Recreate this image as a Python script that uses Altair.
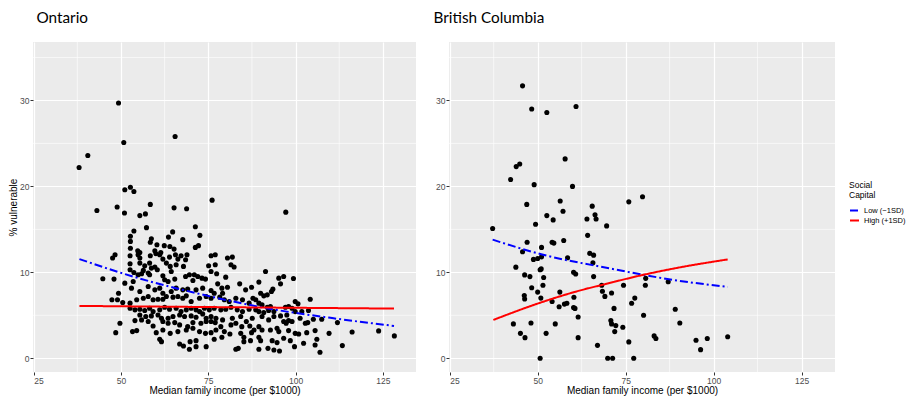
import altair as alt
import pandas as pd

# ---------------- data ----------------
# Ontario: (median family income in $1000, % vulnerable)
ontario_points = [
    (38.0,22.2),(40.5,23.6),(49.3,29.7),(50.8,25.1),(65.5,25.8),(51.1,19.6),(52.7,19.9),(53.7,19.4),(76.1,18.4),
    (43.1,17.2),(48.9,17.6),(51.0,16.9),(58.4,17.9),(55.4,16.6),(57.0,16.8),(65.2,17.5),(68.8,17.4),(57.3,15.2),
    (53.7,14.8),(52.7,14.2),(52.7,13.6),(52.7,12.8),(58.7,13.9),(58.4,13.5),(64.8,14.7),(63.6,14.1),(67.7,13.8),
    (71.3,15.3),(72.6,14.3),(60.3,13.2),(62.4,13.1),(64.0,13.0),(65.2,12.7),(71.3,12.9),(72.2,13.1),(54.8,12.5),
    (55.4,12.3),(59.7,12.5),(61.4,12.3),(97.2,17.0),
    (48.3,12.05),(47.6,11.66),(52.6,11.93),(54.9,12.05),(55.4,11.66),(58.4,11.93),(60.0,12.16),(61.1,12.05),
    (62.0,11.54),(63.9,11.77),(65.6,12.05),(67.2,11.93),(68.9,12.05),(66.3,11.54),(68.5,11.46),
    (52.6,11.0),(55.4,11.07),(56.8,10.76),(58.2,11.07),(58.7,10.49),(59.7,10.61),(63.0,11.07),(64.1,10.69),
    (65.8,10.88),(67.9,10.69),(75.8,11.93),(77.0,12.05),(75.1,10.76),(77.0,10.88),(80.5,11.66),(81.9,11.77),
    (81.5,10.88),(82.4,10.61),(75.8,10.1),(77.4,9.83),
    (44.8,9.25),(48.0,9.21),(52.6,10.3),(53.7,9.98),(54.9,9.71),(56.4,10.22),(55.9,9.83),(57.8,9.91),(58.2,9.71),
    (60.4,10.3),(62.0,9.6),(62.5,9.13),(64.4,10.1),(63.5,8.93),(65.4,9.21),(68.5,9.52),(69.6,9.71),(71.0,9.71),
    (72.0,9.52),(70.6,9.05),(73.2,9.32),(74.2,9.21),
    (77.7,8.66),(78.9,8.16),(80.0,9.44),(80.5,8.27),(84.0,8.66),(85.7,7.96),(87.4,8.27),(87.8,6.99),
    (51.1,8.74),(53.5,8.93),(53.0,8.16),(55.4,7.77),(57.8,8.35),(59.7,7.96),(61.1,8.16),(62.0,7.57),(64.4,7.77),
    (65.8,8.16),(67.7,7.96),(69.1,8.04),(71.5,7.96),(73.4,8.16),(75.8,7.88),(76.7,7.57),(79.1,7.57),
    (47.4,6.8),(49.3,7.57),(49.0,6.8),(50.5,6.48),(52.6,6.41),(54.5,6.8),(56.4,6.99),(57.8,7.18),(59.2,6.8),
    (60.6,6.87),(62.0,6.87),(63.0,7.18),(64.9,7.11),(66.3,7.18),(67.7,6.99),(68.7,7.26),(70.1,6.6),(72.5,6.99),
    (74.4,7.18),(75.8,6.99),(78.3,7.11),(79.6,6.8),(81.0,6.6),(82.9,6.99),(84.8,6.8),(86.7,6.41),
    (52.6,5.82),(54.0,5.63),(55.4,5.71),(56.8,5.55),(58.2,5.82),(59.2,5.43),(61.1,5.63),(62.5,5.94),(63.9,5.71),
    (65.8,5.82),(67.2,5.43),(68.7,5.63),(70.1,5.82),(71.5,5.63),(72.5,5.43),(73.9,5.82),(75.3,5.63),(76.7,5.82),
    (78.6,5.63),(80.0,5.71),(81.5,5.94),(83.3,5.63),(84.8,5.43),(86.7,5.71),
    (55.4,5.04),(57.1,4.85),(58.7,4.93),(60.6,5.04),(61.6,4.66),(63.5,4.66),(64.9,4.85),(66.8,5.04),(68.2,4.85),
    (70.1,4.93),(71.5,4.77),(73.4,5.16),(74.4,4.66),(75.8,4.85),(77.2,4.66),(79.1,4.46),(81.9,4.66),(84.3,4.85),
    (85.9,4.27),(87.6,4.66),
    (49.7,4.07),(54.0,4.38),(55.9,4.46),(57.8,4.27),(59.2,3.76),(62.0,4.27),(63.5,4.07),(65.4,4.15),(66.8,3.88),
    (69.1,3.68),(70.6,4.15),(72.9,4.07),(74.4,4.27),(75.8,4.27),(77.0,4.15),(78.6,3.68),(81.5,3.88),(82.9,4.07),
    (84.6,3.68),(86.9,3.76),(88.1,3.29),
    (48.5,2.98),(53.3,3.1),(54.5,3.22),(60.1,2.98),(62.0,3.29),(64.1,2.9),(66.3,3.1),(68.7,3.29),(70.6,3.49),
    (72.5,3.1),(74.2,2.9),(75.8,2.98),(77.2,3.29),(79.6,3.1),(81.2,2.83),(84.3,2.9),(85.2,2.44),(87.4,2.98),
    (61.1,2.21),(61.6,1.93),(66.8,1.66),(67.9,1.43),(69.8,1.93),(71.5,2.05),(69.6,1.04),(71.5,1.35),(74.4,1.35),
    (76.7,2.21),(78.9,2.44),(82.9,1.04),(83.6,1.15),(85.2,1.93),(87.1,2.05),
    (91.4,10.1),(89.5,8.86),(95.2,9.32),(96.6,9.52),(95.7,8.66),(99.4,9.28),(93.5,8.04),(93.1,7.77),(90.0,7.57),
    (90.9,7.26),(91.9,7.38),(88.6,6.8),(89.5,6.41),(90.4,6.21),(99.9,6.6),(100.7,6.33),(104.2,6.87),(91.9,5.94),
    (92.8,6.02),(97.1,5.94),(98.0,6.02),(99.0,5.82),(88.6,5.63),(89.5,5.43),(90.9,5.32),(92.3,5.55),(93.8,5.43),
    (97.5,5.04),(99.9,5.43),(101.8,5.43),(103.7,5.55),(90.4,4.85),(92.3,4.46),(93.8,4.85),(95.7,4.93),(96.6,4.27),
    (97.3,4.07),(98.0,4.38),(99.0,4.27),(101.3,4.66),(102.8,4.07),(103.5,4.15),(105.1,4.54),(107.5,4.54),
    (112.0,4.15),(89.5,3.68),(90.4,3.29),(92.8,3.29),(94.7,3.49),(95.2,3.1),(98.0,3.22),(99.9,2.9),(100.9,2.83),
    (103.2,2.98),(105.6,3.22),(109.6,2.9),(116.2,3.06),(123.8,3.18),(128.3,2.6),(89.5,2.44),(90.0,2.05),
    (93.3,2.05),(94.7,1.82),(96.6,2.32),(98.5,2.05),(102.3,1.74),(106.1,2.21),(105.6,1.54),(89.5,1.04),
    (92.1,1.15),(93.8,0.96),(95.4,0.84),(99.7,1.35),(107.0,0.69),(113.4,1.47),
]

# British Columbia
bc_points = [
    (45.7,31.7),(48.3,29.0),(52.6,28.6),(60.9,29.3),(57.8,23.2),(44.9,22.6),(43.9,22.3),(42.3,20.8),(49.0,20.2),
    (59.9,20.0),(79.8,18.8),(75.9,18.2),(56.4,18.3),(46.9,17.9),(65.5,17.7),(57.2,17.1),(66.3,16.7),(52.6,16.6),
    (66.6,16.2),(64.0,16.2),(54.4,16.1),
    (37.2,15.1),(69.6,15.4),(49.4,15.6),(64.2,14.3),(47.0,13.5),(54.1,13.5),(54.6,13.4),(57.4,13.7),(45.7,12.4),
    (51.1,12.9),(58.5,11.7),(64.8,12.2),(65.9,12.0),(65.7,11.1),(65.9,9.5),(48.8,11.5),(50.0,11.6),(51.1,11.8),
    (43.8,10.6),(50.7,10.3),(51.0,10.4),(60.2,10.0),(60.8,9.8),(46.3,9.7),(47.8,9.5),(51.7,9.4),(48.3,8.2),
    (51.5,8.5),(50.0,7.7),(50.9,7.0),(56.3,7.7),(54.1,6.6),(56.1,6.0),(57.6,6.3),(58.3,6.4),(60.2,5.9),(60.6,5.8),
    (60.3,7.1),(46.2,7.3),(46.3,6.9),(61.5,4.8),(68.2,8.5),(68.4,7.8),(69.1,7.2),(71.0,7.6),(74.4,8.5),(71.7,5.8),
    (77.6,7.0),(76.7,6.4),(80.7,9.3),(80.6,8.5),(87.1,8.9),(80.1,5.0),(89.1,5.7),(90.4,4.1),(70.8,4.4),(71.0,4.0),
    (72.2,3.8),(71.9,3.1),(74.2,3.6),(43.1,4.0),(48.1,4.1),(55.0,4.0),(45.1,2.9),(46.4,2.4),(52.4,2.9),(61.5,2.4),
    (67.0,1.5),(75.9,1.9),(83.1,2.6),(83.6,2.3),(95.0,2.1),(96.3,1.0),(98.2,2.3),(104.0,2.5),(50.7,0.0),(69.9,0.0),
    (71.3,0.0),(77.3,0.0),
]

# model predictions (income, % vulnerable)
on_low = [(38.1,11.54),(54.0,9.44),(72.9,7.45),(91.8,5.82),(110.9,4.65),(128.2,3.76)]
on_high = [(38.1,6.09),(83.0,5.93),(128.2,5.78)]
bc_low = [(37.2,13.8),(51.0,12.1),(69.9,10.5),(88.8,9.1),(104.0,8.3)]
bc_high = [(37.4,4.46),(51.0,6.5),(60.4,7.7),(69.9,8.7),(79.4,9.65),(88.8,10.45),(104.0,11.5)]

low_label = "Low (\u22121SD)"
high_label = "High (+1SD)"
x_ticks = [25, 50, 75, 100, 125]
y_ticks = [0, 10, 20, 30]
x_minor = [37.5, 62.5, 87.5, 112.5]
y_minor = [5, 15, 25, 35]

X_TITLE = "Median family income (per $1000)"
FONT = "Liberation Sans"


def pts_df(points):
    return pd.DataFrame(points, columns=["income", "value"])


def lines_df(low, high):
    a = pd.DataFrame(low, columns=["income", "value"]); a["sc"] = low_label
    b = pd.DataFrame(high, columns=["income", "value"]); b["sc"] = high_label
    return pd.concat([a, b], ignore_index=True)


def xenc():
    return alt.X("income:Q", title=X_TITLE,
                 scale=alt.Scale(domain=[24.8, 134.5], nice=False, zero=False),
                 axis=alt.Axis(values=x_ticks))


def yenc(title):
    if title:
        return alt.Y("value:Q", title=title,
                     scale=alt.Scale(domain=[-1.6, 36.8], nice=False, zero=False),
                     axis=alt.Axis(values=y_ticks))
    return alt.Y("value:Q", title=None,
                 scale=alt.Scale(domain=[-1.6, 36.8], nice=False, zero=False),
                 axis=alt.Axis(values=y_ticks))


def panel(points, low, high, name, ytitle, dx, width, show_legend):
    vminor = alt.Chart(pd.DataFrame({"income": x_minor})).mark_rule(
        color="white", strokeWidth=0.6).encode(x=xenc())
    hminor = alt.Chart(pd.DataFrame({"value": y_minor})).mark_rule(
        color="white", strokeWidth=0.6).encode(y=yenc(ytitle))
    dots = alt.Chart(pts_df(points)).mark_circle(size=26, color="black", opacity=1).encode(
        x=xenc(), y=yenc(ytitle))
    cscale = alt.Scale(domain=[low_label, high_label], range=["#0000FF", "#FF0000"])
    if show_legend:
        color = alt.Color("sc:N", title=["Social", "Capital"], scale=cscale,
                          sort=[low_label, high_label],
                          legend=alt.Legend(orient="none", legendX=400, legendY=139))
    else:
        color = alt.Color("sc:N", scale=cscale, legend=None)
    lines = alt.Chart(lines_df(low, high)).mark_line(strokeWidth=2, interpolate="monotone").encode(
        x=xenc(), y=yenc(ytitle),
        color=color,
        strokeDash=alt.StrokeDash("sc:N", legend=None,
                                  scale=alt.Scale(domain=[low_label, high_label], range=[[8, 3, 2, 3], [1, 0]])),
    )
    return alt.layer(vminor, hminor, dots, lines).properties(
        width=width, height=330,
        title=alt.TitleParams(name, anchor="start", frame="group", fontSize=15.3, font="Lato",
                              fontWeight="normal", color="black", offset=15, dx=dx),
    )


on_chart = panel(ontario_points, on_low, on_high, "Ontario", "% vulnerable", 3.5, 383, False)
bc_chart = panel(bc_points, bc_low, bc_high, "British Columbia", None, -15.5, 386, True)

chart = alt.hconcat(on_chart, bc_chart, spacing=16).resolve_scale(
    color="independent", strokeDash="independent"
).resolve_legend(
    color="independent", strokeDash="independent"
).properties(
    padding={"left": 0, "top": 3, "right": 0, "bottom": 0}
).configure_view(
    fill="#EBEBEB", strokeWidth=0
).configure_axis(
    grid=True, gridColor="white", gridWidth=1.2, domain=False,
    tickColor="#333333", tickSize=3, tickWidth=1,
    labelColor="#4D4D4D", labelFontSize=8.5, labelFont=FONT, labelPadding=1,
    titleColor="black", titleFontSize=10, titleFont=FONT, titleFontWeight="normal", titlePadding=1,
).configure_legend(
    padding=0,
    titleFont=FONT, titleFontSize=8.5, titleFontWeight="normal", titleColor="black", titleLineHeight=9.5,
    labelFont=FONT, labelFontSize=7.5, labelColor="black", labelOffset=4,
    symbolType="stroke", symbolStrokeWidth=2, symbolSize=81, rowPadding=0, titlePadding=6,
)

chart.save("out.html", embed_options={"renderer": "svg", "actions": False})
